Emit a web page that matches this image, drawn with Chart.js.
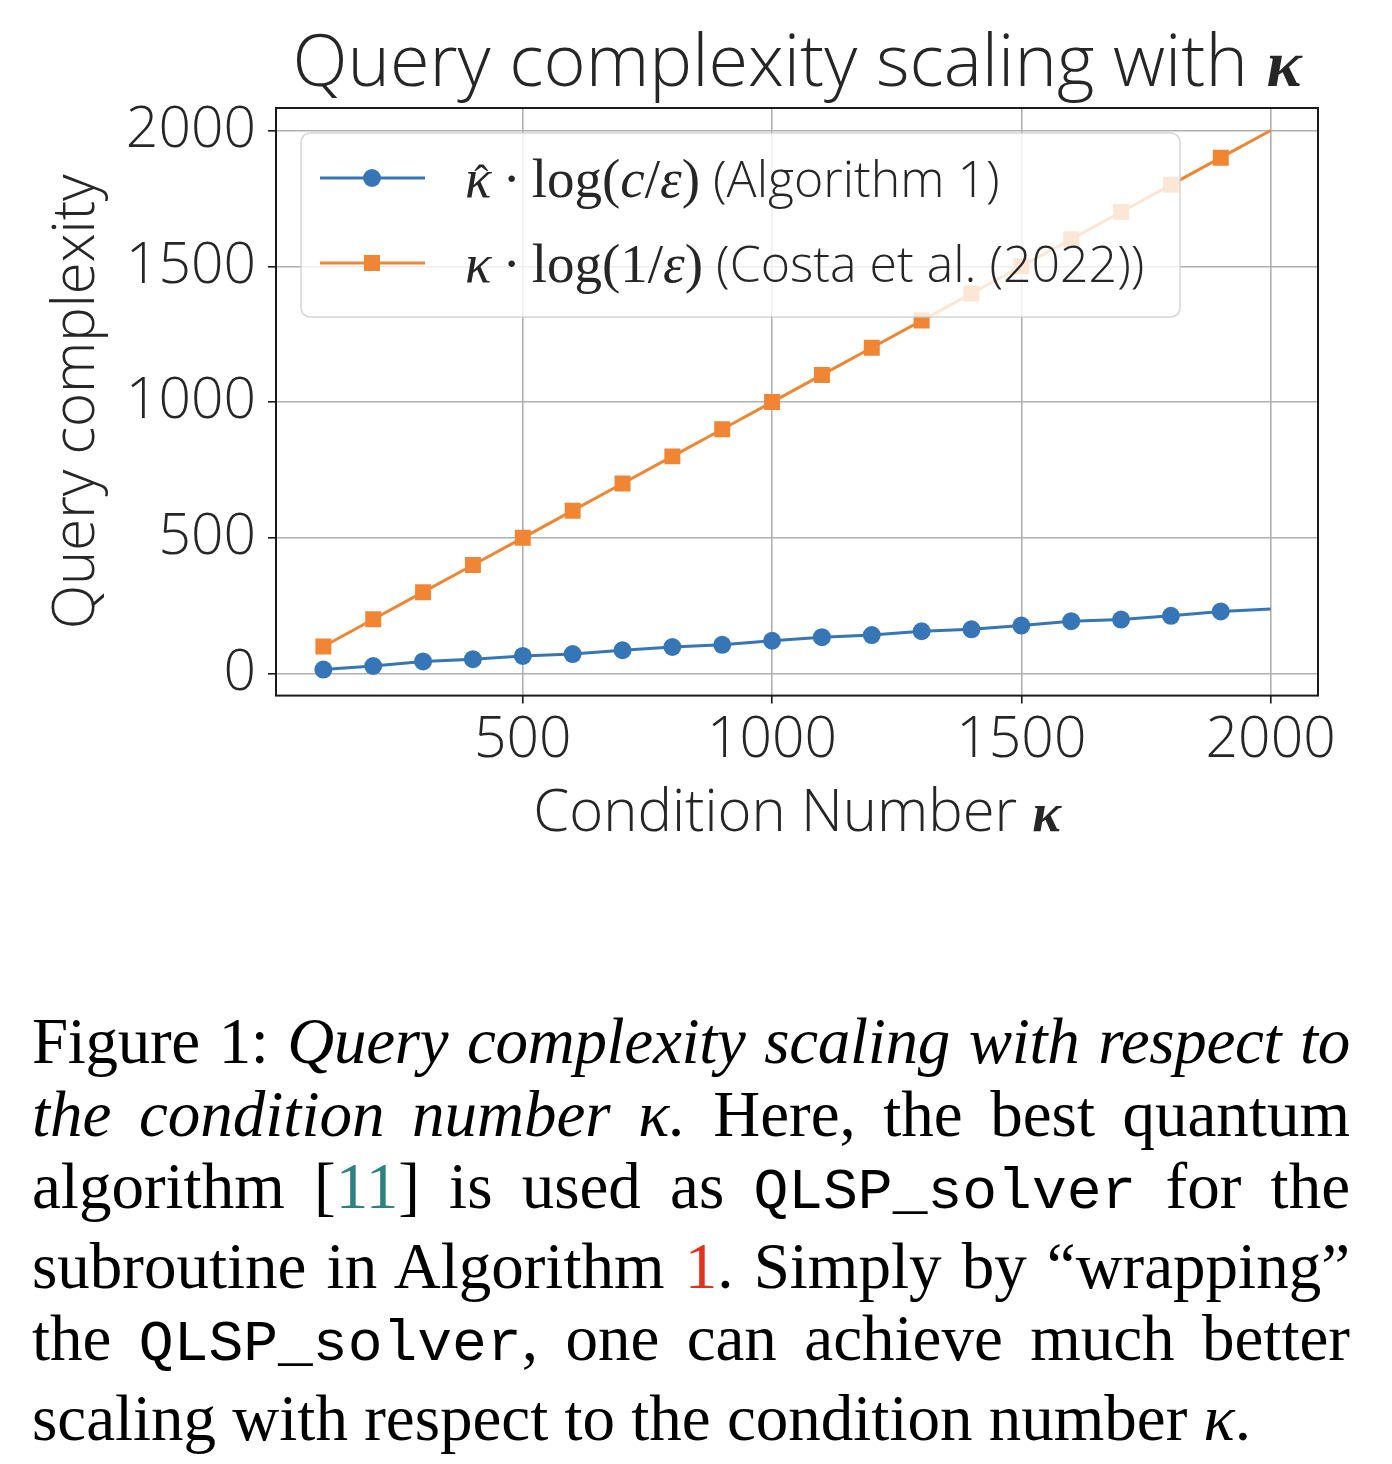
<!DOCTYPE html>
<html>
<head>
<meta charset="utf-8">
<script src="https://cdn.jsdelivr.net/npm/chart.js@4.4.0/dist/chart.umd.min.js"></script>
<style>
  html, body { margin: 0; padding: 0; background: #fff; }
  #wrap { position: relative; width: 1392px; height: 1464px; }
  #chart { position: absolute; left: 0; top: 0; }
  #caption {
    position: absolute; left: 32px; top: 1005px; width: 1318px;
    font-family: "Liberation Serif", "Times New Roman", serif;
    font-size: 65px; line-height: 72.6px; color: #000;
  }
  #caption .ln { text-align: justify; text-align-last: justify; white-space: nowrap; }
  #caption .ln.tight { letter-spacing: -0.3px; }
  #caption .ln.last { text-align-last: left; }
  #caption i { font-style: italic; }
  #caption .tt { font-family: "Liberation Mono", "DejaVu Sans Mono", monospace; font-size: 58px; }
  #caption .cite { color: #2f8080; }
  #caption .ref { color: #e2311d; }
</style>
</head>
<body>
<div id="wrap">
  <canvas id="chart" width="1392" height="900"></canvas>
  <div id="caption">
    <div class="ln tight">Figure 1: <i>Query complexity scaling with respect to</i></div>
    <div class="ln"><i>the condition number κ.</i> Here, the best quantum</div>
    <div class="ln">algorithm [<span class="cite">11</span>] is used as <span class="tt">QLSP_solver</span> for the</div>
    <div class="ln">subroutine in Algorithm <span class="ref">1</span>. Simply by “wrapping”</div>
    <div class="ln">the <span class="tt">QLSP_solver</span>, one can achieve much better</div>
    <div class="ln last">scaling with respect to the condition number <i>κ</i>.</div>
  </div>
</div>
<script>
// condition number kappa on the x axis
const kappa = [100, 200, 300, 400, 500, 600, 700, 800, 900, 1000,
               1100, 1200, 1300, 1400, 1500, 1600, 1700, 1800, 1900, 2000];
// kappa_hat * log(c/eps), Algorithm 1
const algorithm1 = [15, 28, 45, 53, 65, 72, 86, 98, 106, 121,
                    134, 142, 156, 163, 177, 193, 199, 213, 229, 238];
// kappa * log(1/eps), Costa et al. (2022)
const costa = [100, 200, 300, 400, 500, 600, 700, 800, 900, 1000,
               1100, 1200, 1300, 1400, 1500, 1600, 1700, 1800, 1900, 2000];
const xTicks = [500, 1000, 1500, 2000];
const yTicks = [0, 500, 1000, 1500, 2000];

const BLUE = "rgb(55, 118, 182)";
const ORANGE = "rgb(240, 134, 52)";
const SANS = "'Open Sans', 'DejaVu Sans', sans-serif";
const SERIF = "'Liberation Serif', 'DejaVu Serif', serif";

Chart.defaults.font.family = SANS;
Chart.defaults.font.weight = 300;
Chart.defaults.color = "#262626";

// draws a row of text pieces with different fonts, returns the width
function drawRuns(ctx, runs, x, y, measureOnly) {
  let cx = x;
  runs.forEach((r) => {
    ctx.font = r.font;
    const w = ctx.measureText(r.t).width;
    if (!measureOnly) {
      ctx.fillText(r.t, cx, y);
      if (r.hat) {
        ctx.save();
        ctx.font = r.hatFont;
        ctx.textAlign = "center";
        ctx.fillText("ˆ", cx + w / 2 + 3, y - r.hatLift);
        ctx.restore();
      }
    }
    cx += w;
  });
  return cx - x;
}

const mathI = (s) => "italic 400 " + s + "px " + SERIF;
const mathR = (s) => "400 " + s + "px " + SERIF;
const sans = (s) => "300 " + s + "px " + SANS;

const legendRows = [
  {
    color: BLUE, style: "circle",
    runs: [
      { t: "κ", font: mathI(55), hat: true, hatFont: mathR(42), hatLift: 3 },
      { t: "\u2009·\u2009", font: mathR(55) },
      { t: "log(", font: mathR(55) },
      { t: "c", font: mathI(55) },
      { t: "/", font: mathR(55) },
      { t: "ε", font: mathI(55) },
      { t: ")", font: mathR(55) },
      { t: " (Algorithm 1)", font: sans(50) },
    ],
  },
  {
    color: ORANGE, style: "rect",
    runs: [
      { t: "κ", font: mathI(55) },
      { t: "\u2009·\u2009", font: mathR(55) },
      { t: "log(1/", font: mathR(55) },
      { t: "ε", font: mathI(55) },
      { t: ")", font: mathR(55) },
      { t: " (Costa et al. (2022))", font: sans(50) },
    ],
  },
];

const decor = {
  id: "decor",
  afterDatasetsDraw(chart) {
    const { ctx, chartArea: a } = chart;
    ctx.save();
    // axes frame
    ctx.strokeStyle = "#1a1a1a";
    ctx.lineWidth = 2;
    ctx.strokeRect(a.left, a.top, a.right - a.left, a.bottom - a.top);

    // legend box inside the axes
    const bx = a.left + 25, by = a.top + 25, bw = 879, bh = 184, r = 9;
    ctx.beginPath();
    ctx.roundRect(bx, by, bw, bh, r);
    ctx.fillStyle = "rgba(255,255,255,0.8)";
    ctx.fill();
    ctx.strokeStyle = "rgba(204,204,204,0.8)";
    ctx.lineWidth = 1.5;
    ctx.stroke();

    legendRows.forEach((row, i) => {
      const ly = a.top + 70 + i * 85;
      ctx.strokeStyle = row.color;
      ctx.lineWidth = 3;
      ctx.beginPath();
      ctx.moveTo(a.left + 44, ly);
      ctx.lineTo(a.left + 149, ly);
      ctx.stroke();
      ctx.fillStyle = row.color;
      if (row.style === "circle") {
        ctx.beginPath();
        ctx.arc(a.left + 96, ly, 9, 0, Math.PI * 2);
        ctx.fill();
      } else {
        ctx.fillRect(a.left + 96 - 8, ly - 8, 16, 16);
      }
      ctx.fillStyle = "#262626";
      ctx.textBaseline = "alphabetic";
      drawRuns(ctx, row.runs, a.left + 189, ly + 19);
    });
    ctx.restore();
  },
  afterDraw(chart) {
    const { ctx, chartArea: a } = chart;
    const cx = (a.left + a.right) / 2;
    ctx.save();
    ctx.fillStyle = "#262626";
    ctx.textBaseline = "alphabetic";
    // title
    const titleRuns = [
      { t: "Query complexity scaling with ", font: sans(72) },
      { t: "κ", font: "italic 700 66px " + SERIF },
    ];
    let w = drawRuns(ctx, titleRuns, 0, 0, true);
    drawRuns(ctx, titleRuns, cx - w / 2, 86);
    // x axis label
    const xRuns = [
      { t: "Condition Number ", font: sans(58) },
      { t: "κ", font: "italic 700 54px " + SERIF },
    ];
    w = drawRuns(ctx, xRuns, 0, 0, true);
    drawRuns(ctx, xRuns, cx - w / 2, a.bottom + 135);
    ctx.restore();
  },
};

const toPoints = (ys) => kappa.map((k, i) => ({ x: k, y: ys[i] }));
const markerRadius = (r) => (c) => (c.dataIndex < kappa.length - 1 ? r : 0);
const plainTick = (v) => String(v);

new Chart(document.getElementById("chart"), {
  type: "line",
  data: {
    datasets: [
      {
        label: "κ̂·log(c/ε) (Algorithm 1)",
        data: toPoints(algorithm1),
        borderColor: BLUE,
        backgroundColor: BLUE,
        borderWidth: 3,
        pointStyle: "circle",
        pointRadius: markerRadius(9),
        pointBorderWidth: 0,
        pointHoverRadius: markerRadius(9),
        tension: 0,
      },
      {
        label: "κ·log(1/ε) (Costa et al. (2022))",
        data: toPoints(costa),
        borderColor: ORANGE,
        backgroundColor: ORANGE,
        borderWidth: 3,
        pointStyle: "rect",
        pointRadius: markerRadius(11.3),
        pointBorderWidth: 0,
        pointHoverRadius: markerRadius(11.3),
        tension: 0,
      },
    ],
  },
  options: {
    responsive: false,
    animation: false,
    events: [],
    layout: { padding: { top: 108, right: 74, left: 0, bottom: 122 } },
    plugins: {
      legend: { display: false },
      tooltip: { enabled: false },
      title: { display: false },
    },
    scales: {
      x: {
        type: "linear",
        min: 5,
        max: 2095,
        afterBuildTicks: (s) => { s.ticks = xTicks.map((v) => ({ value: v })); },
        ticks: { font: { size: 57, weight: 300 }, padding: 3, maxRotation: 0, color: "#262626", callback: plainTick },
        grid: { color: "#b0b0b0", lineWidth: 1.6, tickColor: "#1a1a1a", tickLength: 8 },
        border: { display: false },
      },
      y: {
        type: "linear",
        min: -81,
        max: 2083,
        afterBuildTicks: (s) => { s.ticks = yTicks.map((v) => ({ value: v })); },
        afterFit: (s) => { s.width = 276; },
        ticks: { font: { size: 57, weight: 300 }, padding: 12, color: "#262626", callback: plainTick },
        grid: { color: "#b0b0b0", lineWidth: 1.6, tickColor: "#1a1a1a", tickLength: 8 },
        border: { display: false },
        title: {
          display: true,
          text: "Query complexity",
          font: { size: 58, weight: 300 },
          padding: { top: 43, bottom: 0 },
          color: "#262626",
        },
      },
    },
  },
  plugins: [decor],
});
</script>
</body>
</html>
